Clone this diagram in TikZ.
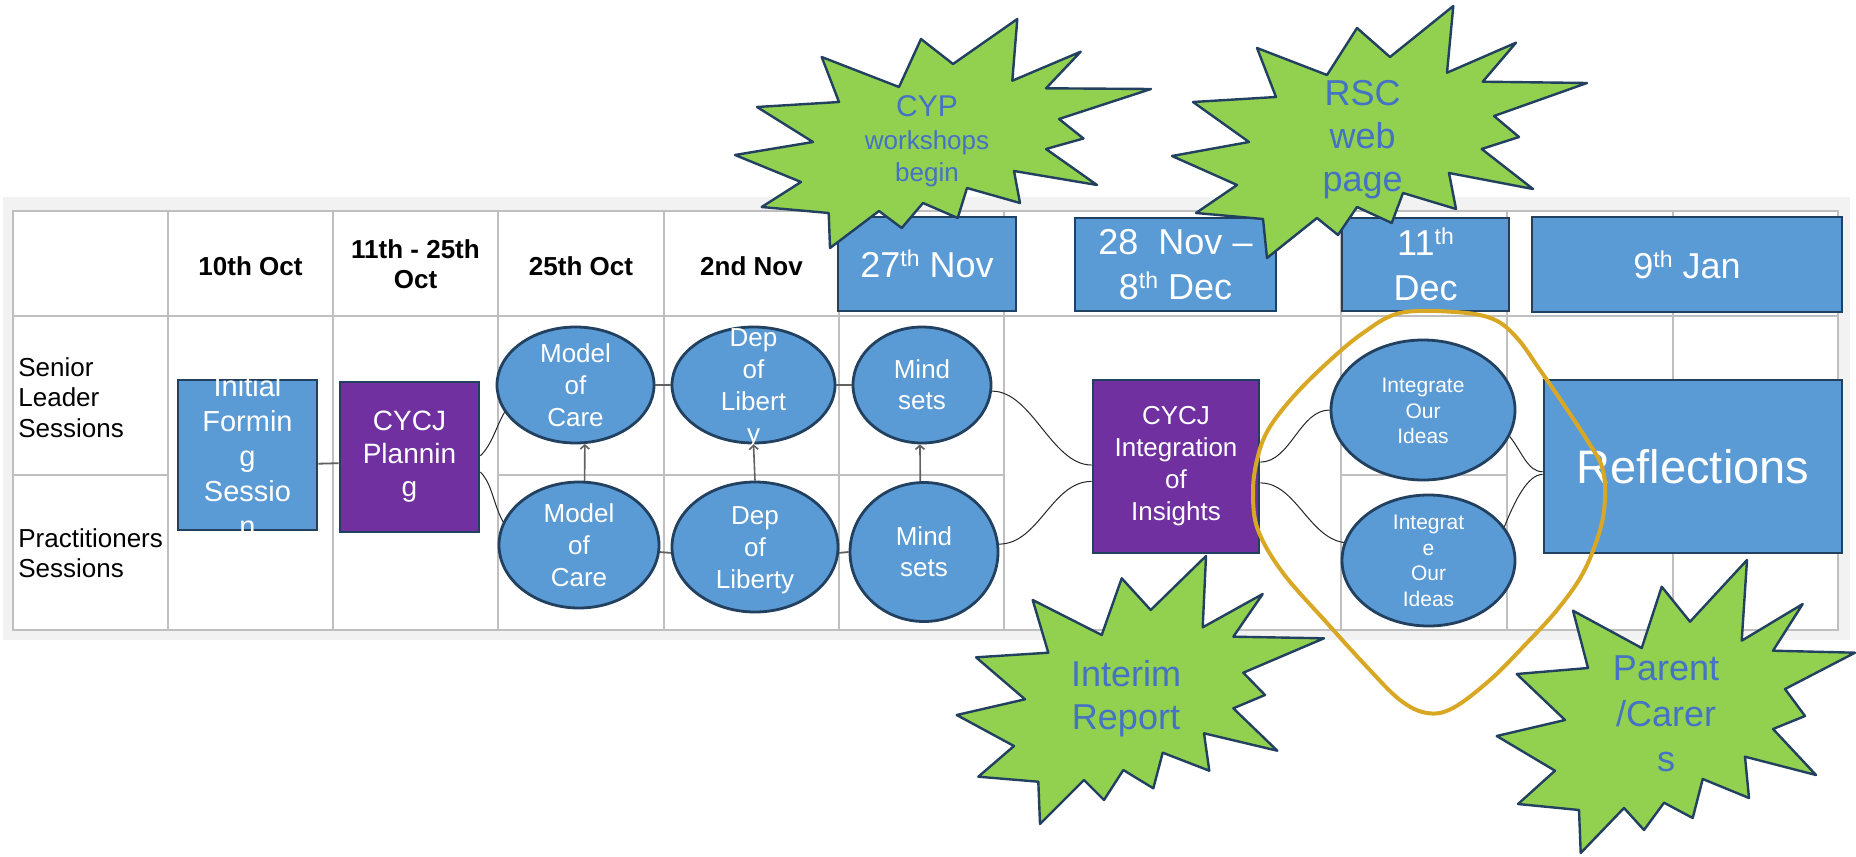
\documentclass[tikz,border=0pt]{standalone}
\usepackage{fontspec}
\setmainfont{Liberation Sans}
\usetikzlibrary{calc,arrows.meta,shapes.geometric}
\definecolor{boxblue}{HTML}{5B9BD5}
\definecolor{edge}{HTML}{22405F}
\definecolor{purp}{HTML}{7030A0}
\definecolor{burstgreen}{HTML}{92D050}
\definecolor{bursttext}{HTML}{4472C4}
\definecolor{grid}{HTML}{BFBFBF}
\definecolor{panel}{HTML}{F2F2F2}
\definecolor{gold}{HTML}{D8A824}
\newcommand\myfs[2]{\fontsize{#1}{#2}\selectfont}
\newcommand\supx[1]{\raisebox{5.5pt}{\myfs{11.5}{12}#1}}
\begin{document}
\begin{tikzpicture}[x=0.5pt,y=-0.5pt,
  gridline/.style={draw=grid, line width=0.7pt},
  rowlbl/.style={align=left, inner sep=0pt, font=\myfs{13}{15.25}},
  hdr/.style={align=center, inner sep=0pt, font=\bfseries\myfs{13}{15}},
  bluebox/.style={rectangle, draw=edge, line width=1.4pt, fill=boxblue, inner sep=0pt, text=white, align=center},
  purpbox/.style={bluebox, fill=purp},
  oval/.style={ellipse, draw=edge, line width=1.4pt, fill=boxblue, inner sep=0pt},
  wtxt/.style={text=white, align=center, inner sep=0pt},
  sz/.style 2 args={minimum width=#1*0.5pt, minimum height=#2*0.5pt},
  burstshape/.style={fill=burstgreen, draw=edge, line width=1.2pt, line join=round},
  btxt/.style={text=bursttext, align=center, inner sep=0pt},
  conn/.style={draw=black!85, line width=0.5pt},
  hconn/.style={draw=black!62, line width=0.9pt},
  upconn/.style={draw=black!62, line width=0.8pt, -{Straight Barb[length=2pt,width=4.5pt]}},
  goldloop/.style={draw=gold, line width=2pt}
]
\useasboundingbox (0,0) rectangle (1856,856);
% table background
\fill[panel] (3,197) rectangle (1850,640);
\filldraw[fill=white, gridline] (13,211) rectangle (1838,630);
\draw[gridline] (13,316) -- (1838,316);
\draw[gridline] (13,475) -- (168,475) (498,475) -- (1004,475) (1341,475) -- (1507,475);
\foreach \x in {168,333,498,664,839,1004,1341,1507,1673} \draw[gridline] (\x,211) -- (\x,630);

% row labels
\node[rowlbl, anchor=west] (r1) at (18,397.7) {Senior\\Leader\\Sessions};
\node[rowlbl, anchor=west] (r2) at (18,553.4) {Practitioners\\Sessions};

% header dates
\node[hdr] (d1) at (250.5,266.5) {10th Oct};
\node[hdr] (d2) at (415.5,264.5) {11th - 25th\\Oct};
\node[hdr] (d3) at (581,266.5) {25th Oct};
\node[hdr] (d4) at (751.5,266) {2nd Nov};

% header boxes
\node[bluebox, sz={178}{94}, font=\myfs{18}{22.5}] (b27) at (927,264) {27\supx{th} Nov};
\node[bluebox, sz={201}{93}, font=\myfs{18}{22.5}] (b28) at (1175.5,264.5) {28~~Nov --\\8\supx{th} Dec};
\node[bluebox, sz={167}{93}, font=\myfs{18}{22.5}] (b11) at (1425.5,264.5) {11\supx{th}\\Dec};
\node[bluebox, sz={310}{95}, font=\myfs{18}{22.5}] (b9) at (1687,264.5) {9\supx{th} Jan};

% process nodes
\node[bluebox, sz={139}{150}] (ifs) at (247.5,455) {};
\node[wtxt, font=\myfs{14.5}{17.5}] (ifs-t) at ($(ifs)+(0,0.5)$) {Initial\\Formin\\g\\Sessio\\n};
\node[purpbox, sz={139}{150}, font=\myfs{14}{16.5}] (plan) at (409.5,457) {CYCJ\\Plannin\\g};

\node[oval, sz={157}{116}] (mct) at (575.5,385) {};
\node[wtxt, font=\myfs{13}{16}] (mct-t) at ($(mct)+(0,0.5)$) {Model\\of\\Care};
\node[oval, sz={160}{126}] (mcb) at (579,545) {};
\node[wtxt, font=\myfs{13}{16}] (mcb-t) at (mcb) {Model\\of\\Care};

\node[oval, sz={163}{116}] (dlt) at (753.5,385) {};
\node[wtxt, font=\myfs{13}{16}] (dlt-t) at ($(dlt)+(0,3)$) {Dep\\of\\Libert\\y};
\node[oval, sz={166}{130}] (dlb) at (755,547) {};
\node[wtxt, font=\myfs{13}{16}] (dlb-t) at ($(dlb)+(0,3)$) {Dep\\of\\Liberty};

\node[oval, sz={138}{116}] (mst) at (922,385) {};
\node[wtxt, font=\myfs{13}{15.5}] (mst-t) at (mst) {Mind\\sets};
\node[oval, sz={148}{139}] (msb) at (924,552) {};
\node[wtxt, font=\myfs{13}{15.5}] (msb-t) at (msb) {Mind\\sets};

\node[purpbox, sz={166}{173}, font=\myfs{13}{16}] (cint) at (1176,466.5) {CYCJ\\Integration\\of\\Insights};

\node[oval, sz={184}{140}] (iot) at (1423,410) {};
\node[wtxt, font=\myfs{10.5}{12.75}] (iot-t) at ($(iot)+(0,1)$) {Integrate\\Our\\Ideas};
\node[oval, sz={173}{131}] (iob) at (1428.5,560.5) {};
\node[wtxt, font=\myfs{10.5}{12.75}] (iob-t) at ($(iob)+(0,0.5)$) {Integrat\\e\\Our\\Ideas};

\node[bluebox, sz={298}{173}, font=\myfs{23.5}{28}] (refl) at (1693,466.5) {Reflections};

% connectors
\draw[hconn] (ifs.-7.3) -- (plan.185.7);
\draw[conn] (plan.1) .. controls +(12,-12) and +(-10,18) .. (mct.201);
\draw[conn] (plan.-12.8) .. controls +(12,12) and +(-10,-18) .. (mcb.163.2);
\draw[hconn] (mct.east) -- (dlt.west);
\draw[hconn] (dlt.east) -- (mst.west);
\draw[hconn] (mcb.-5) -- (dlb.184);
\draw[hconn] (dlb.-4) -- (msb.west);
\draw[upconn] (mcb.85.5) -- (mct.-81.8);
\draw[upconn] (dlb.north) -- (dlt.south);
\draw[upconn] (msb.93) -- (mst.-92);
\draw[conn] (mst.-5.7) .. controls +(40,0) and +(-40,0) .. (cint.179);
\draw[conn] (msb.6.1) .. controls +(40,0) and +(-40,0) .. (cint.190.5);
\draw[conn] (cint.3) .. controls +(30,0) and +(-30,0) .. (iot.west);
\draw[conn] (cint.-11.1) .. controls +(35,0) and +(-35,-5) .. (iob.168.4);
\draw[conn] (iot.-17.4) .. controls +(12,15) and +(-15,0) .. (refl.182.5);
\draw[conn] (iob.24.2) .. controls +(10,-25) and +(-15,0) .. (refl.183.2);

% starbursts
\filldraw[burstshape] (1017.3,19) -- (1012.3,80.7) -- (1080.7,51.7) -- (1046,88.3) -- (1151,89) -- (1059,119) -- (1083.5,138.5) -- (1046,149) -- (1097,185) -- (1014,171) -- (1020,203) -- (967,188) -- (957.7,218) -- (923,203) -- (901.7,228) -- (879,211) -- (830,248) -- (828.7,213) -- (761.7,207) -- (801,182) -- (735,155) -- (813,142) -- (757,107) -- (839,102) -- (821.7,57) -- (899,87) -- (921,39) -- (953,64) -- cycle;
\node[btxt, font=\myfs{13}{16.25}] (cyp) at (927,141.5) {{\myfs{15}{16.25}CYP}\\workshops\\begin};

\filldraw[burstshape] (1453.3,6) -- (1447,72.7) -- (1516,42.7) -- (1482.7,81.7) -- (1587,83) -- (1494,116) -- (1519,137) -- (1481.7,149) -- (1533,189) -- (1449,173) -- (1456,209) -- (1403,193) -- (1391.7,223) -- (1357,207) -- (1338,235) -- (1317,218) -- (1267,258) -- (1263,219) -- (1196,213) -- (1237,185) -- (1172,156) -- (1249,142) -- (1193,102) -- (1276,97) -- (1257,48) -- (1327,75) -- (1357,28) -- (1390,57) -- cycle;
\node[btxt, font=\myfs{18}{21.5}] (rsc) at (1362.7,139.8) {RSC\\web\\page};

\filldraw[burstshape] (1206,556) -- (1202.7,627.3) -- (1262.7,594) -- (1233.3,636.7) -- (1324,638.3) -- (1243.3,672.7) -- (1265,695) -- (1233.3,708.3) -- (1277.3,750.7) -- (1204,733.3) -- (1209.3,770.7) -- (1162.7,752.7) -- (1153.3,788.3) -- (1123.3,770) -- (1104,800) -- (1084,780) -- (1040,824) -- (1038.3,781.7) -- (978.3,776.7) -- (1014,746) -- (956.7,715) -- (1025,699.3) -- (976,657.3) -- (1048.3,652.7) -- (1032.7,600) -- (1101.7,635) -- (1121.7,578.3) -- (1150.7,610) -- cycle;
\node[btxt, font=\myfs{18}{21.5}] (interim) at (1126,698.3) {Interim\\Report};

\filldraw[burstshape] (1747,560) -- (1741.7,640.7) -- (1802.7,604) -- (1773,650.7) -- (1855,652.7) -- (1785,689) -- (1805,716) -- (1773,729) -- (1816,775) -- (1745,756.7) -- (1749,798) -- (1702.7,779) -- (1692.7,818) -- (1664,802.7) -- (1644,830) -- (1624,808) -- (1580.7,853) -- (1579,810) -- (1518,804) -- (1555,770.7) -- (1496.7,736) -- (1565,720) -- (1516.7,674) -- (1588,668) -- (1573,610.7) -- (1641.7,648) -- (1661.7,586.7) -- (1690,621.7) -- cycle;
\node[btxt, font=\myfs{18}{22.75}] (parent) at (1666,714.2) {Parent\\/Carer\\s};

% gold hand-drawn loop
\draw[goldloop] plot[smooth cycle, tension=0.6] coordinates {(1400,313) (1455,312) (1493,319) (1517,338) (1540,370) (1562,402) (1587,440) (1602,467) (1605,497) (1600,530) (1583,573) (1557,610) (1523,647) (1490,680) (1453,708) (1427,713) (1400,700) (1367,667) (1327,623) (1283,573) (1258,530) (1253,493) (1257,460) (1268,430) (1293,397) (1327,363) (1363,333)};
\end{tikzpicture}
\end{document}
